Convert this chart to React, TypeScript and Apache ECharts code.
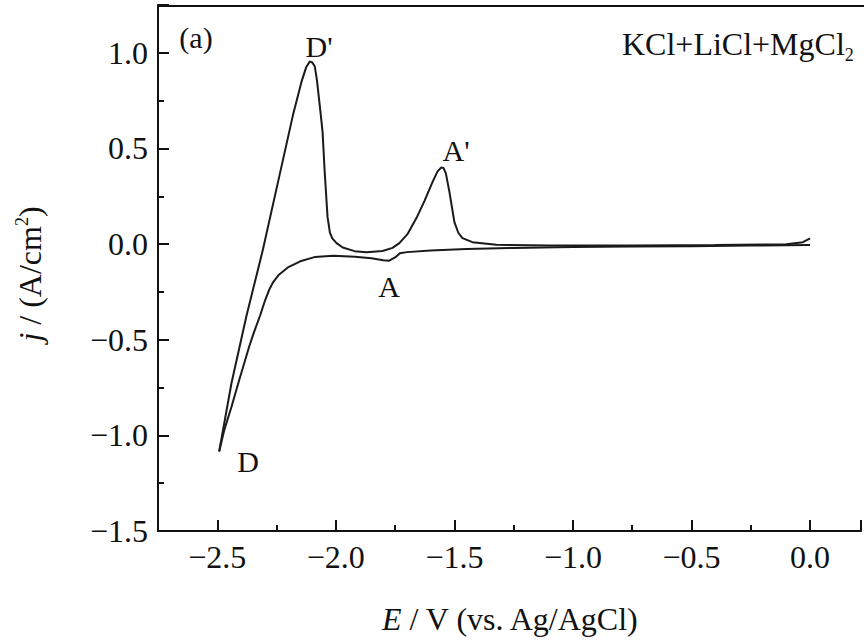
import React, { useEffect, useRef } from "react";
import * as echarts from "echarts";

// Forward (cathodic) sweep: from 0 V towards -2.49 V
const forwardE = [0, -0.25, -0.5, -0.75, -1.0, -1.25, -1.45, -1.6, -1.7, -1.73, -1.75, -1.775, -1.8, -1.85, -1.92, -2.01, -2.09, -2.15, -2.2, -2.24, -2.265, -2.28, -2.3, -2.32, -2.345, -2.365, -2.405, -2.44, -2.47, -2.492];
const forwardJ = [-0.005, -0.008, -0.011, -0.013, -0.015, -0.02, -0.026, -0.034, -0.042, -0.048, -0.07, -0.087, -0.085, -0.074, -0.066, -0.061, -0.068, -0.09, -0.12, -0.16, -0.2, -0.236, -0.3, -0.376, -0.46, -0.534, -0.7, -0.85, -0.97, -1.084];

// Reverse (anodic) sweep: from -2.49 V back to 0 V
const reverseE = [-2.492, -2.44, -2.377, -2.307, -2.244, -2.181, -2.145, -2.125, -2.11, -2.1, -2.089, -2.08, -2.068, -2.056, -2.047, -2.035, -2.025, -2.015, -1.997, -1.971, -1.921, -1.87, -1.803, -1.761, -1.732, -1.698, -1.66, -1.626, -1.592, -1.571, -1.556, -1.546, -1.536, -1.521, -1.5, -1.483, -1.466, -1.424, -1.323, -1.1, -0.75, -0.4, -0.1, -0.03, 0];
const reverseJ = [-1.084, -0.726, -0.376, -0.026, 0.324, 0.673, 0.848, 0.925, 0.955, 0.95, 0.93, 0.86, 0.726, 0.588, 0.378, 0.142, 0.06, 0.03, 0.005, -0.018, -0.037, -0.043, -0.036, -0.02, 0.005, 0.052, 0.136, 0.226, 0.325, 0.38, 0.4, 0.398, 0.37, 0.273, 0.115, 0.058, 0.031, 0.01, -0.004, -0.008, -0.007, -0.005, -0.001, 0.01, 0.03];

const X_MIN = -2.75;
const X_MAX = 0.2148;
const Y_MIN = -1.5;
const Y_MAX = 1.25;

const FONT = "'Liberation Serif', 'Times New Roman', serif";
const INK = "#111";

function fmt(v: number): string {
  if (Math.abs(v * 2 - Math.round(v * 2)) > 1e-6) return "";
  const s = Math.abs(v).toFixed(1);
  return v < -1e-9 ? "\u2212" + s : s;
}

export default function App() {
  const ref = useRef<HTMLDivElement>(null);
  useEffect(() => {
    if (!ref.current) return;
    const chart = echarts.init(ref.current, undefined, { renderer: "svg" });
    const fwd = forwardE.map((e, i) => [e, forwardJ[i]]);
    const rev = reverseE.map((e, i) => [e, reverseJ[i]]);
    const labelStyle = { fontFamily: FONT, fontSize: 32, color: INK };
    chart.setOption({
      animation: false,
      backgroundColor: "#fff",
      grid: {
        left: 158,
        top: 5,
        width: 704,
        height: 526,
        show: false,
      },
      xAxis: [
        {
          type: "value",
          position: "bottom",
          min: X_MIN,
          max: X_MAX,
          interval: 0.25,
          axisLine: { show: true, onZero: false, lineStyle: { color: INK, width: 2 } },
          axisTick: { show: true, inside: true, length: 6, lineStyle: { color: INK, width: 2 } },
          axisLabel: { ...labelStyle, margin: 10, formatter: (v: number) => fmt(v) },
          splitLine: { show: false },
        },
        {
          type: "value",
          position: "bottom",
          min: X_MIN,
          max: X_MAX,
          splitNumber: 6,
          axisLine: { show: false, onZero: false },
          axisTick: { show: true, inside: true, length: 11, lineStyle: { color: INK, width: 2 } },
          axisLabel: { show: false },
          splitLine: { show: false },
        },
      ],
      yAxis: [
        {
          type: "value",
          position: "left",
          min: Y_MIN,
          max: Y_MAX,
          interval: 0.25,
          axisLine: { show: true, onZero: false, lineStyle: { color: INK, width: 2 } },
          axisTick: { show: true, inside: true, length: 6, lineStyle: { color: INK, width: 2 } },
          axisLabel: { ...labelStyle, margin: 10, formatter: (v: number) => fmt(v) },
          splitLine: { show: false },
        },
        {
          type: "value",
          position: "left",
          min: Y_MIN,
          max: Y_MAX,
          interval: 0.5,
          axisLine: { show: false, onZero: false },
          axisTick: { show: true, inside: true, length: 11, lineStyle: { color: INK, width: 2 } },
          axisLabel: { show: false },
          splitLine: { show: false },
        },
      ],
      series: [
        {
          type: "line",
          xAxisIndex: 0,
          yAxisIndex: 0,
          data: fwd,
          showSymbol: false,
          smooth: false,
          lineStyle: { color: "#1a1a1a", width: 2 },
        },
        {
          type: "line",
          xAxisIndex: 0,
          yAxisIndex: 0,
          data: rev,
          showSymbol: false,
          smooth: false,
          lineStyle: { color: "#1a1a1a", width: 2 },
        },
      ],
      graphic: [
        {
          type: "line",
          shape: { x1: 157, y1: 6, x2: 864, y2: 6 },
          style: { stroke: INK, lineWidth: 2 },
        },
        {
          type: "text",
          x: 196,
          y: 37,
          style: { text: "(a)", font: `30px ${FONT}`, fill: INK, align: "center", verticalAlign: "middle" },
        },
        {
          type: "text",
          x: 319,
          y: 46,
          style: { text: "D'", font: `30px ${FONT}`, fill: INK, align: "center", verticalAlign: "middle" },
        },
        {
          type: "text",
          x: 456,
          y: 150,
          style: { text: "A'", font: `30px ${FONT}`, fill: INK, align: "center", verticalAlign: "middle" },
        },
        {
          type: "text",
          x: 389,
          y: 286,
          style: { text: "A", font: `30px ${FONT}`, fill: INK, align: "center", verticalAlign: "middle" },
        },
        {
          type: "text",
          x: 248,
          y: 461,
          style: { text: "D", font: `30px ${FONT}`, fill: INK, align: "center", verticalAlign: "middle" },
        },
        {
          type: "text",
          x: 622,
          y: 44,
          style: {
            text: "KCl+LiCl+MgCl{sub|2}",
            font: `32px ${FONT}`,
            fill: INK,
            align: "left",
            verticalAlign: "middle",
            rich: {
              sub: { fontFamily: FONT, fontSize: 18, fill: INK, padding: [22, 0, 0, 0] },
            },
          },
        },
        {
          type: "text",
          x: 382,
          y: 619,
          style: {
            text: "{i|E} / V (vs. Ag/AgCl)",
            font: `32px ${FONT}`,
            fill: INK,
            align: "left",
            verticalAlign: "middle",
            rich: {
              i: { fontFamily: FONT, fontSize: 32, fontStyle: "italic", fill: INK },
            },
          },
        },
        {
          type: "text",
          x: 30,
          y: 274,
          rotation: Math.PI / 2,
          style: {
            text: "{i|j} / (A/cm{sup|2})",
            font: `32px ${FONT}`,
            fill: INK,
            align: "center",
            verticalAlign: "middle",
            rich: {
              i: { fontFamily: FONT, fontSize: 32, fontStyle: "italic", fill: INK },
              sup: { fontFamily: FONT, fontSize: 18, fill: INK, padding: [0, 0, 16, 0] },
            },
          },
        },
      ],
    });
    return () => chart.dispose();
  }, []);
  return (
    <div
      ref={ref}
      style={{ position: "fixed", left: 0, top: 0, width: 864, height: 642, background: "#fff" }}
    />
  );
}
